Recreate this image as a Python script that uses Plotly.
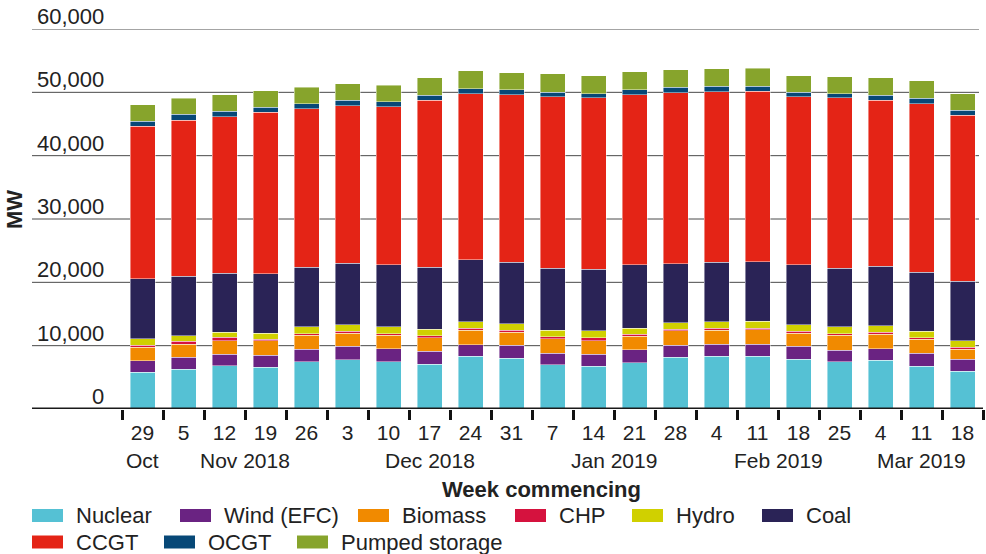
import plotly.graph_objects as go

# ---------------- data ----------------
weeks = ["2018-10-29", "2018-11-05", "2018-11-12", "2018-11-19", "2018-11-26",
         "2018-12-03", "2018-12-10", "2018-12-17", "2018-12-24", "2018-12-31",
         "2019-01-07", "2019-01-14", "2019-01-21", "2019-01-28", "2019-02-04",
         "2019-02-11", "2019-02-18", "2019-02-25", "2019-03-04", "2019-03-11",
         "2019-03-18"]
day_labels = ["29", "5", "12", "19", "26", "3", "10", "17", "24", "31", "7", "14",
              "21", "28", "4", "11", "18", "25", "4", "11", "18"]
week_month = ["Oct"] + ["Nov 2018"] * 4 + ["Dec 2018"] * 5 + ["Jan 2019"] * 4 + \
             ["Feb 2019"] * 4 + ["Mar 2019"] * 3

nuclear = [5780, 6310, 6840, 6630, 7470, 7780, 7470, 7100, 8310, 7990, 6950, 6790,
           7310, 8210, 8310, 8360, 7840, 7470, 7680, 6790, 5940]
wind = [1850, 1900, 1840, 1840, 2000, 2110, 2050, 2000, 1840, 2050, 1890, 1890,
        2050, 1830, 1890, 1890, 2050, 1840, 1840, 2050, 1900]
biomass = [2100, 2050, 2110, 2320, 2150, 2050, 2100, 2160, 2260, 2060, 2260, 2110,
           2100, 2280, 2270, 2270, 2050, 2310, 2260, 2150, 1630]
chp = [320, 420, 520, 260, 270, 310, 270, 310, 320, 310, 320, 470, 320, 310, 320,
       260, 310, 270, 320, 270, 260]
hydro = [1050, 890, 790, 890, 1060, 1060, 1060, 1060, 1060, 1060, 1050, 1060, 1010,
         1000, 1000, 1060, 1060, 1060, 1010, 990, 1010]
coal = [9430, 9370, 9370, 9380, 9410, 9740, 9790, 9730, 9740, 9740, 9730, 9720,
        9950, 9310, 9420, 9420, 9430, 9250, 9410, 9380, 9410]
ccgt = [24100, 24690, 24680, 25520, 25010, 24840, 24950, 26370, 26210, 26370, 27070,
        27070, 26840, 26960, 26890, 26890, 26530, 26910, 26210, 26580, 26210]
ocgt = [790, 890, 840, 790, 840, 840, 830, 790, 840, 840, 780, 630, 840, 890, 840,
        840, 780, 630, 790, 840, 790]
pumped = [2630, 2580, 2590, 2630, 2580, 2590, 2580, 2780, 2820, 2680, 2900, 2890,
          2840, 2790, 2800, 2800, 2580, 2730, 2800, 2790, 2640]

series_names = ["Nuclear", "Wind (EFC)", "Biomass", "CHP", "Hydro", "Coal",
                "CCGT", "OCGT", "Pumped storage"]
series_values = [nuclear, wind, biomass, chp, hydro, coal, ccgt, ocgt, pumped]

y_ticks = [0, 10000, 20000, 30000, 40000, 50000, 60000]

# ---------------- styling ----------------
colors = ["#55C1D4", "#6A2382", "#F18A00", "#D5123E", "#D0D000", "#2A2356",
          "#E42416", "#074877", "#87A42C"]
TEXT = "#222222"
FONT = "Liberation Sans, Arial, sans-serif"

W, H = 986, 554
L, R, T, B = 122, 3, 29, 145
PW, PH = W - L - R, H - T - B


def px_x(px):
    return (px - L) / PW


def px_y(py):
    return (H - B - py) / PH


fig = go.Figure()
for name, vals, col in zip(series_names, series_values, colors):
    fig.add_trace(go.Bar(
        x=weeks, y=vals, name=name, marker_color=col,
        marker_line=dict(color="rgba(255,255,255,0.55)", width=0.8),
        showlegend=False,
    ))

shapes = []
annotations = []

# gridlines extended to the left under the tick labels
for v in y_ticks[1:]:
    shapes.append(dict(type="line", xref="paper", yref="y", x0=px_x(32), x1=px_x(979),
                       y0=v, y1=v, line=dict(color="#4a4a4a", width=1), layer="below"))
# baseline axis
shapes.append(dict(type="line", xref="paper", yref="y", x0=px_x(32), x1=1.0,
                   y0=0, y1=0, line=dict(color="#1a1a1a", width=3), layer="above"))

# y tick labels (above gridlines, right-aligned)
for v in y_ticks:
    annotations.append(dict(xref="paper", yref="y", x=px_x(106), y=v,
                            text=f"{v:,}", showarrow=False, xanchor="right",
                            yanchor="bottom", yshift=-2,
                            font=dict(size=22, color=TEXT, family=FONT)))

# month labels centred under their weeks
months = []
for i, m in enumerate(week_month):
    if not months or months[-1][0] != m:
        months.append([m, []])
    months[-1][1].append(i)
for m, idx in months:
    c = sum(idx) / len(idx)
    annotations.append(dict(xref="paper", yref="paper", x=(c + 0.5) / len(weeks),
                            y=px_y(460), text=m, showarrow=False, xanchor="center",
                            yanchor="middle", font=dict(size=21, color=TEXT, family=FONT)))

# axis titles
annotations.append(dict(xref="paper", yref="paper", x=px_x(541), y=px_y(489),
                        text="<b>Week commencing</b>", showarrow=False,
                        xanchor="center", yanchor="middle",
                        font=dict(size=22, color=TEXT, family=FONT)))
annotations.append(dict(xref="paper", yref="paper", x=px_x(14), y=px_y(210),
                        text="<b>MW</b>", showarrow=False, textangle=-90,
                        xanchor="center", yanchor="middle",
                        font=dict(size=22, color=TEXT, family=FONT)))

# legend (two rows)
legend_pos = [(32, 515.5), (180, 515.5), (358, 515.5), (515, 515.5), (632, 515.5),
              (762, 515.5), (32, 542), (164, 542), (297, 542)]
for (lx, ly), name, col in zip(legend_pos, series_names, colors):
    shapes.append(dict(type="rect", xref="paper", yref="paper",
                       x0=px_x(lx), x1=px_x(lx + 31), y0=px_y(ly - 6.5), y1=px_y(ly + 6.5),
                       fillcolor=col, line=dict(width=0)))
    annotations.append(dict(xref="paper", yref="paper", x=px_x(lx + 42), y=px_y(ly),
                            text=name, showarrow=False, xanchor="left", yanchor="middle",
                            font=dict(size=22, color=TEXT, family=FONT)))

fig.update_layout(
    width=W, height=H, margin=dict(l=L, r=R, t=T, b=B),
    barmode="stack", bargap=0.39,
    plot_bgcolor="white", paper_bgcolor="white",
    font=dict(family=FONT, color=TEXT),
    shapes=shapes, annotations=annotations,
    xaxis=dict(type="category", range=[-0.5, len(weeks) - 0.5],
               tickvals=weeks, ticktext=day_labels, tickson="boundaries",
               ticks="outside", ticklen=10, tickwidth=3, tickcolor="#111111",
               ticklabelstandoff=9,
               showgrid=False, showline=False, zeroline=False,
               tickfont=dict(size=21, color=TEXT, family=FONT)),
    yaxis=dict(range=[0, 60000], showgrid=False, zeroline=False, showline=False,
               showticklabels=False, ticks=""),
)

fig.write_html("out.html", config={"displayModeBar": False},
               post_script="document.body.style.margin='0';document.body.style.overflow='hidden';")
